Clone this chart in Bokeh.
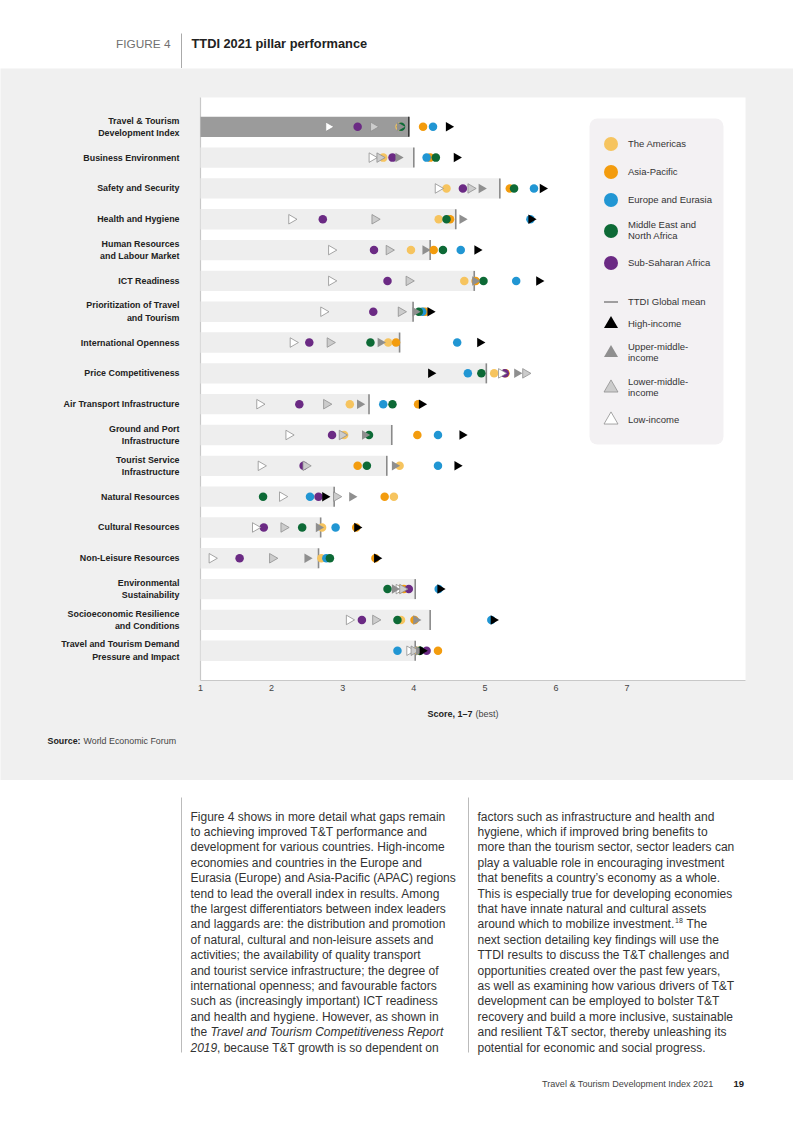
import numpy as np
from bokeh.plotting import figure
from bokeh.models import Range1d, FixedTicker, ColumnDataSource, Legend, LegendItem, BoxAnnotation
from bokeh.layouts import column
from bokeh.embed import file_html
from bokeh.resources import INLINE
from bokeh.core.properties import value

FONT = "Liberation Sans"

# ---------------- data ----------------
pillars = [
    "Travel & Tourism\nDevelopment Index",
    "Business Environment",
    "Safety and Security",
    "Health and Hygiene",
    "Human Resources\nand Labour Market",
    "ICT Readiness",
    "Prioritization of Travel\nand Tourism",
    "International Openness",
    "Price Competitiveness",
    "Air Transport Infrastructure",
    "Ground and Port\nInfrastructure",
    "Tourist Service\nInfrastructure",
    "Natural Resources",
    "Cultural Resources",
    "Non-Leisure Resources",
    "Environmental\nSustainability",
    "Socioeconomic Resilience\nand Conditions",
    "Travel and Tourism Demand\nPressure and Impact",
]
global_mean = [3.93, 4.00, 5.21, 4.59, 4.23, 4.85, 3.99, 3.80, 5.02, 3.37, 3.69, 3.62, 2.88, 2.69, 2.66, 4.02, 4.23, 4.02]
americas = [3.80, 3.57, 4.46, 4.35, 3.96, 4.71, 4.13, 3.64, 5.13, 3.10, 3.02, 3.80, 3.72, 2.71, 2.70, 3.81, 3.82, 4.06]
asia_pacific = [4.13, 4.23, 5.35, 4.51, 4.28, 4.87, 4.16, 3.75, 5.29, 4.06, 4.05, 3.21, 3.59, 3.19, 3.46, 3.86, 4.01, 4.34]
europe_eurasia = [4.27, 4.18, 5.69, 5.64, 4.66, 5.44, 4.12, 4.61, 4.76, 3.57, 4.34, 4.34, 2.54, 2.90, 2.77, 4.35, 5.09, 3.77]
mena = [3.82, 4.31, 5.41, 4.46, 4.41, 4.98, 4.07, 3.39, 4.95, 3.70, 3.37, 3.34, 1.88, 2.43, 2.82, 3.63, 3.77, 4.09]
sub_saharan = [3.21, 3.70, 4.69, 2.72, 3.44, 3.63, 3.43, 2.53, 5.28, 2.39, 2.85, 2.45, 2.66, 1.89, 1.55, 3.93, 3.27, 4.18]
high_income = [4.49, 4.60, 5.81, 5.65, 4.89, 5.76, 4.23, 4.93, 4.24, 4.11, 4.68, 4.61, 2.75, 3.20, 3.48, 4.37, 5.12, 4.12]
upper_middle_income = [3.80, 3.78, 4.95, 4.68, 4.16, 4.86, 4.02, 3.53, 5.45, 3.24, 3.31, 3.73, 3.13, 2.66, 2.50, 3.73, 4.03, 4.07]
lower_middle_income = [3.43, 3.52, 4.80, 3.45, 3.65, 3.93, 3.82, 2.82, 5.57, 2.77, 2.99, 2.48, 2.91, 2.17, 2.01, 3.84, 3.46, 4.00]
low_income = [2.80, 3.41, 4.34, 2.28, 2.84, 2.84, 2.73, 2.30, 5.23, 1.83, 2.24, 1.85, 2.15, 1.77, 1.16, 3.79, 3.09, 3.94]
x_ticks = [1, 2, 3, 4, 5, 6, 7]

region_names = ["The Americas", "Asia-Pacific", "Europe and Eurasia",
                "Middle East and\nNorth Africa", "Sub-Saharan Africa"]
region_colors = ["#F6C45F", "#F39C0E", "#2196D3", "#0D6A36", "#6B2A84"]
income_names = ["High-income", "Upper-middle-\nincome", "Lower-middle-\nincome", "Low-income"]

left_lines = [
    "Figure 4 shows in more detail what gaps remain",
    "to achieving improved T&T performance and",
    "development for various countries. High-income",
    "economies and countries in the Europe and",
    "Eurasia (Europe) and Asia-Pacific (APAC) regions",
    "tend to lead the overall index in results. Among",
    "the largest differentiators between index leaders",
    "and laggards are: the distribution and promotion",
    "of natural, cultural and non-leisure assets and",
    "activities; the availability of quality transport",
    "and tourist service infrastructure; the degree of",
    "international openness; and favourable factors",
    "such as (increasingly important) ICT readiness",
    "and health and hygiene. However, as shown in",
]
right_lines = [
    "factors such as infrastructure and health and",
    "hygiene, which if improved bring benefits to",
    "more than the tourism sector, sector leaders can",
    "play a valuable role in encouraging investment",
    "that benefits a country\u2019s economy as a whole.",
    "This is especially true for developing economies",
    "that have innate natural and cultural assets",
    None,
    "next section detailing key findings will use the",
    "TTDI results to discuss the T&T challenges and",
    "opportunities created over the past few years,",
    "as well as examining how various drivers of T&T",
    "development can be employed to bolster T&T",
    "recovery and build a more inclusive, sustainable",
    "and resilient T&T sector, thereby unleashing its",
    "potential for economic and social progress.",
]

# ---------------- page geometry helpers ----------------
W = 793
PANEL = "#f0f0f0"
TXT = "#333333"

PLOT_L, PLOT_R, PLOT_T, PLOT_B = 200, 745, 97, 680   # white plot area on the page
X_MIN, X_MAX = 1.0, 8.665                             # score range of the white area
PXU = (PLOT_R - PLOT_L) / (X_MAX - X_MIN)
ROW0, ROWH = 126.3, 30.82                             # centre of first row, row pitch
PANEL_TOP, PANEL_BOT = 68, 780


def dx(px):
    return X_MIN + (px - PLOT_L) / PXU


def dy(py):
    return (py - ROW0) / ROWH


def page_fig(h, top, bg):
    p = figure(width=W, height=h, x_range=Range1d(0, W), y_range=Range1d(top + h, top),
               x_axis_location=None, y_axis_location=None, output_backend="svg",
               toolbar_location=None, min_border=0, background_fill_color=bg,
               border_fill_color=bg, outline_line_color=None)
    p.grid.visible = False
    return p


def put(p, x, y, s, size, color=TXT, style="normal", align="left"):
    p.text(x=[x], y=[y], text=[s], text_font=value(FONT), text_font_size=value(f"{size}px"),
           text_font_style=style, text_color=color, text_align=align, text_baseline="middle")


# ---------------- header ----------------
hdr = page_fig(PANEL_TOP, 0, "white")
put(hdr, 170, 43, "FIGURE 4", 11.8, "#707070", align="right")
put(hdr, 191, 43, "TTDI 2021 pillar performance", 12.8, "#222222", "bold")
hdr.segment(x0=[181], y0=[33], x1=[181], y1=[68], line_color="#aaaaaa", line_width=1)

# ---------------- chart (frame covers the whole grey panel) ----------------
n = len(pillars)
rows = list(range(n))
pc = figure(width=W, height=PANEL_BOT - PANEL_TOP,
            x_range=Range1d(dx(0), dx(W)), y_range=Range1d(dy(PANEL_BOT), dy(PANEL_TOP)),
            y_axis_location=None, output_backend="svg", toolbar_location=None,
            min_border=0, background_fill_color=PANEL, border_fill_color=PANEL,
            outline_line_color=None)
pc.grid.visible = False
xa = pc.xaxis[0]
xa.fixed_location = dy(PLOT_B)
xa.ticker = FixedTicker(ticks=x_ticks)
xa.bounds = (X_MIN, X_MAX)
xa.major_tick_line_color = None
xa.minor_tick_line_color = None
xa.major_tick_out = 0
xa.major_tick_in = 0
xa.axis_line_color = "#c8c8c8"
xa.axis_line_width = 1.2
xa.major_label_standoff = 4
xa.major_label_text_font = FONT
xa.major_label_text_font_size = "9px"
xa.major_label_text_color = "#444444"

# white plotting area and its left edge
pc.quad(left=[X_MIN], right=[X_MAX], top=[dy(PLOT_T)], bottom=[dy(PLOT_B)],
        fill_color="white", line_color=None, level="underlay")
pc.segment(x0=[X_MIN], x1=[X_MIN], y0=[dy(PLOT_T)], y1=[dy(PLOT_B)], line_color="#c8c8c8", line_width=1.2)

# category labels (through the y scale)
pc.text(x=[dx(179)] * n, y=rows, text=pillars, text_font=value(FONT), text_font_size=value("8.9px"),
        text_font_style="bold", text_color="#222222", text_align="right", text_baseline="middle",
        text_line_height=1.25)


def put_pc(px, py, s, size, color=TXT, style="normal"):
    pc.text(x=[dx(px)], y=[dy(py)], text=[s], text_font=value(FONT), text_font_size=value(f"{size}px"),
            text_font_style=style, text_color=color, text_align="left", text_baseline="middle")


put_pc(427, 713, "Score, 1\u20137", 9, "#222222", "bold")
put_pc(475, 713, "(best)", 9, "#444444")
put_pc(47, 740, "Source:", 8.9, "#222222", "bold")
put_pc(83, 740, "World Economic Forum", 8.9, "#444444")

bar_src = ColumnDataSource(dict(
    y=rows, mean=global_mean,
    color=["#9b9b9b"] + ["#eeeeee"] * (n - 1),
    mcol=["#333333"] + ["#8a8a8a"] * (n - 1),
))
pc.hbar(y="y", left=X_MIN, right="mean", height=0.66, fill_color="color", line_color=None, source=bar_src)
mean_r = pc.scatter(x="mean", y="y", marker="dash", size=20, angle=np.pi / 2,
                    line_color="mcol", line_width=1.6, source=bar_src)

region_vals = [americas, asia_pacific, europe_eurasia, mena, sub_saharan]
region_r = []
for vals, col in zip(region_vals, region_colors):
    r = pc.scatter(x=vals, y=rows, marker="circle", size=8.5, fill_color=col, line_color=None)
    region_r.append(r)

income_vals = [low_income, lower_middle_income, upper_middle_income, high_income]
income_fill = ["#ffffff", "#cccccc", "#8f8f8f", "#000000"]
income_line = ["#8f8f8f", "#8f8f8f", None, None]
income_r = []
for vals, fc, lc in zip(income_vals, income_fill, income_line):
    r = pc.scatter(x=vals, y=rows, marker="triangle", size=9.5, angle=-np.pi / 2,
                   fill_color=fc, line_color=lc, line_width=0.8)
    income_r.append(r)
income_r = income_r[::-1]  # high, upper-middle, lower-middle, low

# legend panel
box = BoxAnnotation(left=dx(589), right=dx(723), top=dy(118), bottom=dy(444),
                    fill_color="#f3f1f3", fill_alpha=1, line_color=None, border_radius=8)
pc.add_layout(box)

GL = 35
leg_common = dict(orientation="vertical", padding=0, margin=0, spacing=0, background_fill_alpha=0,
                  border_line_color=None, label_text_font=FONT, label_text_font_size="9.5px",
                  label_text_color=TXT, glyph_width=GL, glyph_height=GL, label_standoff=0)
legend_rows = [(region_names[i], region_r[i], None, cy) for i, cy in enumerate([143, 171, 199, 230, 262])]
legend_rows.append(("TTDI Global mean", mean_r, 1, 301))
legend_rows += [(income_names[i], income_r[i], None, cy) for i, cy in enumerate([323, 352, 387, 419])]
for label, rend, idx, cy in legend_rows:
    item = LegendItem(label=label, renderers=[rend], index=idx)
    leg = Legend(items=[item], location=(593, PANEL_BOT - cy - GL / 2), **leg_common)
    pc.add_layout(leg)

# ---------------- body text ----------------
body = page_fig(1122 - PANEL_BOT, PANEL_BOT, "white")
Y0, DY, FS = 816, 15.4, 12
for i, s in enumerate(left_lines):
    put(body, 190, Y0 + DY * i, s, FS)
put(body, 190, Y0 + DY * 14, "the", FS)
put(body, 210, Y0 + DY * 14, "Travel and Tourism Competitiveness Report", FS, style="italic")
put(body, 190, Y0 + DY * 15, "2019", FS, style="italic")
put(body, 216.5, Y0 + DY * 15, ", because T&T growth is so dependent on", FS)
for i, s in enumerate(right_lines):
    if s is not None:
        put(body, 477, Y0 + DY * i, s, FS)
put(body, 477, Y0 + DY * 7, "around which to mobilize investment.", FS)
put(body, 674.5, Y0 + DY * 7 - 4, "18", 7)
put(body, 686, Y0 + DY * 7, "The", FS)
body.segment(x0=[181, 468], y0=[797, 797], x1=[181, 468], y1=[1052, 1052],
             line_color="#bbbbbb", line_width=1)
put(body, 713, 1083, "Travel & Tourism Development Index 2021", 9.1, "#444444", align="right")
put(body, 733, 1083, "19", 9.5, "#222222", "bold")

layout = column(hdr, pc, body)
open("out.html", "w").write(file_html(layout, INLINE))
